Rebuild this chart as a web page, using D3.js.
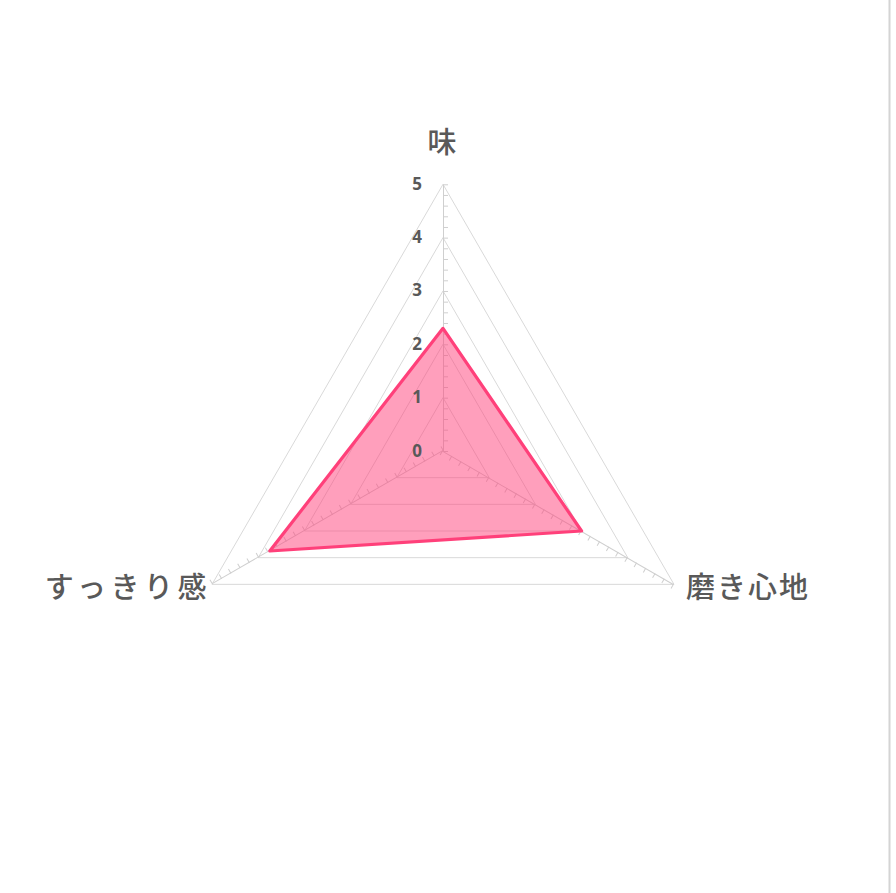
<!DOCTYPE html>
<html>
<head>
<meta charset="utf-8">
<title>Radar</title>
<style>
  body { margin: 0; background: #fff; }
  svg { display: block; }
</style>
</head>
<body>
<div id="my_dataviz"></div>
<script src="https://d3js.org/d3.v7.min.js"></script>
<script>

    // categories and values (clockwise from the top)
    var categories = ["味", "磨き心地", "すっきり感"];
    var values = [2.3, 3.0, 3.75];
    var ringValues = [1, 2, 3, 4, 5];
    var tickLabels = ["0", "1", "2", "3", "4", "5"];

    var width = 896, height = 893;
    var cx = 443, cy = 451, radius = 266.7;

    var svg = d3.select("#my_dataviz")
      .append("svg")
        .attr("width", width)
        .attr("height", height);

    // right border of the chart area
    svg.append("line")
      .attr("x1", 889.5).attr("x2", 889.5)
      .attr("y1", 0).attr("y2", height)
      .attr("stroke", "#d4d4d4")
      .attr("stroke-width", 2);

    var g = svg.append("g")
      .attr("transform", "translate(" + cx + "," + cy + ")");

    var r = d3.scaleLinear().domain([0, 5]).range([0, radius]);
    var angle = d3.scalePoint().domain(categories).range([0, 240]);

    function pt(cat, v) {
      var a = angle(cat) * Math.PI / 180;
      return [r(v) * Math.sin(a), -r(v) * Math.cos(a)];
    }

    // grid rings
    g.selectAll(".ring")
      .data(ringValues)
      .enter()
      .append("polygon")
        .attr("class", "ring")
        .attr("points", function(v) {
          return categories.map(function(c) { return pt(c, v).join(","); }).join(" ");
        })
        .attr("fill", "none")
        .attr("stroke", "#d9d9d9")
        .attr("stroke-width", 1);

    // radial axes with minor ticks
    var yAx = d3.scaleLinear().domain([0, 5]).range([0, -radius]);
    categories.forEach(function(c) {
      var ax = g.append("g")
        .attr("transform", "rotate(" + angle(c) + ")")
        .call(d3.axisRight(yAx)
          .tickValues(d3.range(0, 26).map(function(i) { return i / 5; }))
          .tickSize(5)
          .tickSizeOuter(0)
          .tickFormat(""));
      ax.selectAll("path, line").attr("stroke", "#cfcfcf");
    });

    // series polygon
    g.append("polygon")
      .datum(values)
      .attr("points", function(d) {
        return d.map(function(v, i) { return pt(categories[i], v).join(","); }).join(" ");
      })
      .attr("fill", "#ff407a")
      .attr("fill-opacity", 0.5)
      .attr("stroke", "#ff407a")
      .attr("stroke-width", 3.2)
      .attr("stroke-linejoin", "round");

    // value labels on the top axis
    g.selectAll(".tickLabel")
      .data(tickLabels)
      .enter()
      .append("text")
        .attr("class", "tickLabel")
        .attr("x", -21)
        .attr("y", function(d) { return yAx(+d) - 1; })
        .attr("text-anchor", "end")
        .attr("dominant-baseline", "central")
        .style("font-family", "'Noto Sans', 'DejaVu Sans', sans-serif")
        .style("font-weight", "bold")
        .style("font-size", "17px")
        .attr("fill", "#595959")
        .text(function(d) { return d; });

    // category labels
    var labelPos = [
      {anchor: "middle", dx: 0, dy: -44, sp: 2},
      {anchor: "start", dx: 12, dy: 1, sp: 2},
      {anchor: "end", dx: -1, dy: 1, sp: 4.5}
    ];
    g.selectAll(".catLabel")
      .data(categories)
      .enter()
      .append("text")
        .attr("class", "catLabel")
        .attr("x", function(d, i) { return pt(d, 5)[0] + labelPos[i].dx; })
        .attr("y", function(d, i) { return pt(d, 5)[1] + labelPos[i].dy; })
        .attr("text-anchor", function(d, i) { return labelPos[i].anchor; })
        .attr("dominant-baseline", "central")
        .style("font-family", "'Noto Sans CJK JP', sans-serif")
        .style("font-weight", "500")
        .style("font-size", "29px")
        .style("letter-spacing", function(d, i) { return labelPos[i].sp + "px"; })
        .attr("fill", "#595959")
        .text(function(d) { return d; });

</script>
</body>
</html>
